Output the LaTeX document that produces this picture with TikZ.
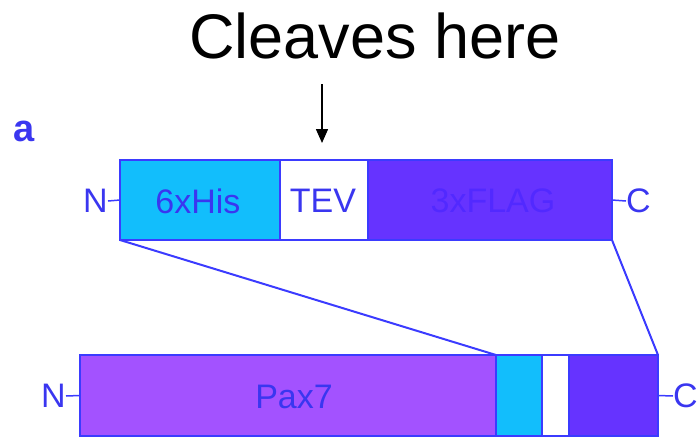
\documentclass[tikz,border=0pt]{standalone}
\usepackage{fontspec}
\setmainfont{Liberation Sans}
\usetikzlibrary{arrows.meta}
\definecolor{lblue}{HTML}{3A36F0}
\definecolor{cyanf}{HTML}{12BEFC}
\definecolor{flagf}{HTML}{6633FF}
\definecolor{paxf}{HTML}{A352FF}
\definecolor{edge}{HTML}{3B3BFF}
\begin{document}
\begin{tikzpicture}[x=1pt,y=-1pt,
  seg/.style={draw=edge,line width=2pt,anchor=north west,inner sep=0pt,outer sep=0pt},
  lab/.style={text=lblue,font=\fontsize{34}{36}\selectfont,inner sep=0pt},
  tick/.style={draw=edge,line width=1.5pt},
  conn/.style={draw=edge,line width=2pt}]
\useasboundingbox (0,0) rectangle (700,439);
% title
\node[font=\fontsize{63}{66}\selectfont,inner sep=0pt] (title) at (375,36) {Cleaves here};
\coordinate (arrtop) at (322,84);
\coordinate (arrbot) at (322,143);
\draw[line width=1.5pt,-{Triangle[length=14pt,width=12pt]}] (arrtop) -- (arrbot);
% panel label
\node[text=lblue,font=\bfseries\fontsize{38}{40}\selectfont,inner sep=0pt] (pa) at (24,131) {a};
% top construct
\node[seg,fill=cyanf,minimum width=160pt,minimum height=80pt] (his) at (120,160) {};
\node[seg,fill=white,minimum width=88pt,minimum height=80pt] (tev) at (280,160) {};
\node[seg,fill=flagf,minimum width=244pt,minimum height=80pt] (flag) at (368,160) {};
\node[lab] (hisl) at (198,201) {6xHis};
\node[lab] (tevl) at (323,201) {TEV};
\node[lab,text=flagf!80!blue] (flagl) at (493,201) {3xFLAG};
\node[lab,anchor=east] (n1) at (108,201) {N};
\node[lab,anchor=west] (c1) at (626,201) {C};
\draw[tick] (n1.east) -- (his.west);
\draw[tick] (flag.east) -- (c1.west);
% bottom construct
\node[seg,fill=paxf,minimum width=416pt,minimum height=81pt] (pax) at (80,355) {};
\node[seg,fill=cyanf,minimum width=46pt,minimum height=81pt] (phis) at (496,355) {};
\node[seg,fill=white,minimum width=27pt,minimum height=81pt] (ptev) at (542,355) {};
\node[seg,fill=flagf,minimum width=89pt,minimum height=81pt] (pflag) at (569,355) {};
\node[lab] (paxl) at (294,397) {Pax7};
\node[lab,anchor=east] (n2) at (66,396) {N};
\node[lab,anchor=west] (c2) at (673,396) {C};
\draw[tick] (n2.east) -- (pax.west);
\draw[tick] (pflag.east) -- (c2.west);
% connectors
\draw[conn] (his.south west) -- (phis.north west);
\draw[conn] (flag.south east) -- (pflag.north east);
\end{tikzpicture}
\end{document}
